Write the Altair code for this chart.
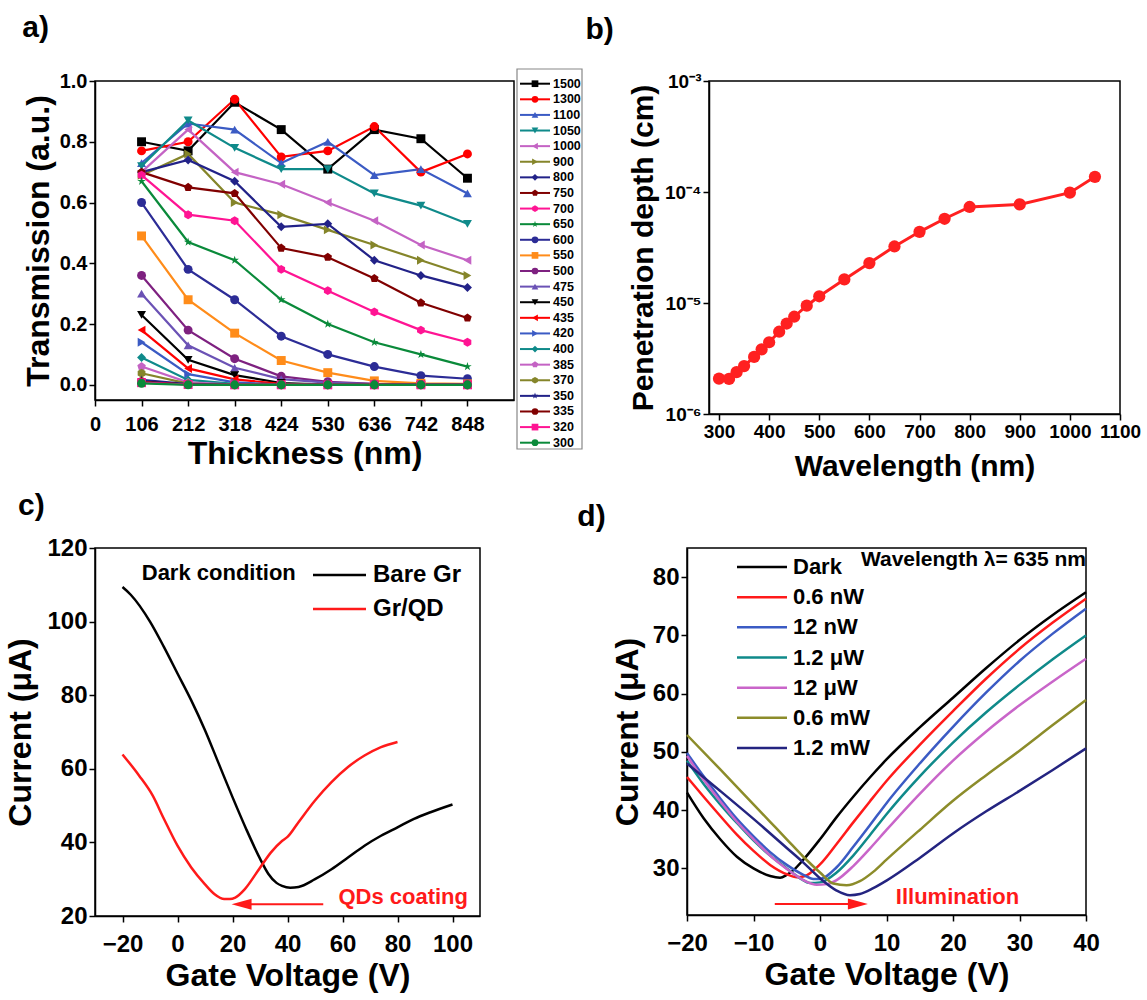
import altair as alt
import pandas as pd

FONT = "Liberation Sans"

# ---------------- panel a: transmission vs thickness ----------------
thickness = [106, 212, 318, 424, 530, 636, 742, 848]
wavelengths = ["1500", "1300", "1100", "1050", "1000", "900", "800", "750", "700", "650",
               "600", "550", "500", "475", "450", "435", "420", "400", "385", "370",
               "350", "335", "320", "300"]
t1500 = [0.80, 0.77, 0.93, 0.84, 0.71, 0.84, 0.81, 0.68]
t1300 = [0.77, 0.80, 0.94, 0.75, 0.77, 0.85, 0.70, 0.76]
t1100 = [0.73, 0.86, 0.84, 0.73, 0.80, 0.69, 0.71, 0.63]
t1050 = [0.72, 0.87, 0.78, 0.71, 0.71, 0.63, 0.59, 0.53]
t1000 = [0.70, 0.84, 0.70, 0.66, 0.60, 0.54, 0.46, 0.41]
t900 = [0.69, 0.76, 0.60, 0.56, 0.51, 0.46, 0.41, 0.36]
t800 = [0.70, 0.74, 0.67, 0.52, 0.53, 0.41, 0.36, 0.32]
t750 = [0.70, 0.65, 0.63, 0.45, 0.42, 0.35, 0.27, 0.22]
t700 = [0.69, 0.56, 0.54, 0.38, 0.31, 0.24, 0.18, 0.14]
t650 = [0.67, 0.47, 0.41, 0.28, 0.20, 0.14, 0.10, 0.06]
t600 = [0.60, 0.38, 0.28, 0.16, 0.10, 0.06, 0.03, 0.02]
t550 = [0.49, 0.28, 0.17, 0.08, 0.04, 0.013, 0.005, 0.003]
t500 = [0.36, 0.18, 0.086, 0.028, 0.01, 0.003, 0.001, 0.0]
t475 = [0.30, 0.13, 0.056, 0.019, 0.007, 0.002, 0.001, 0.0]
t450 = [0.23, 0.082, 0.032, 0.006, 0.001, 0.0, 0.0, 0.0]
t435 = [0.18, 0.054, 0.018, 0.003, 0.0, 0.0, 0.0, 0.0]
t420 = [0.14, 0.035, 0.008, 0.001, 0.0, 0.0, 0.0, 0.0]
t400 = [0.09, 0.016, 0.003, 0.0, 0.0, 0.0, 0.0, 0.0]
t385 = [0.06, 0.008, 0.001, 0.0, 0.0, 0.0, 0.0, 0.0]
t370 = [0.038, 0.004, 0.0, 0.0, 0.0, 0.0, 0.0, 0.0]
t350 = [0.016, 0.002, 0.0, 0.0, 0.0, 0.0, 0.0, 0.0]
t335 = [0.010, 0.001, 0.0, 0.0, 0.0, 0.0, 0.0, 0.0]
t320 = [0.007, 0.001, 0.0, 0.0, 0.0, 0.0, 0.0, 0.0]
t300 = [0.005, 0.0, 0.0, 0.0, 0.0, 0.0, 0.0, 0.0]
series_a = [t1500, t1300, t1100, t1050, t1000, t900, t800, t750, t700, t650, t600, t550,
            t500, t475, t450, t435, t420, t400, t385, t370, t350, t335, t320, t300]
colors_a = ["#000000", "#FF0000", "#3B5BC4", "#0F8A8A", "#C463C4", "#85852A", "#222288",
            "#800000", "#FF1493", "#0A8A3A", "#2C2C96", "#FF8C1A", "#7E2180", "#6B52B5",
            "#000000", "#FF0000", "#3B5BC4", "#0F8A8A", "#C463C4", "#85852A", "#222288",
            "#800000", "#FF1493", "#0A8A3A"]
STAR = "M0,-1L0.2245,-0.309L0.951,-0.309L0.363,0.118L0.588,0.809L0,0.382L-0.588,0.809L-0.363,0.118L-0.951,-0.309L-0.2245,-0.309Z"
PENT = "M0,-1L0.951,-0.309L0.588,0.809L-0.588,0.809L-0.951,-0.309Z"
HEX = "M0,-1L0.866,-0.5L0.866,0.5L0,1L-0.866,0.5L-0.866,-0.5Z"
shapes_a = ["square", "circle", "triangle-up", "triangle-down", "triangle-left", "triangle-right",
            "diamond", PENT, HEX, STAR, "circle", "square", "circle", "triangle-up",
            "triangle-down", "triangle-left", "triangle-right", "diamond", PENT, HEX, STAR,
            "circle", "square", "circle"]

# ---------------- panel b: penetration depth ----------------
wl_b = [300, 320, 335, 350, 370, 385, 400, 420, 435, 450, 475, 500, 550, 600, 650, 700, 750,
        800, 900, 1000, 1050]
depth_b = [2.08e-6, 2.07e-6, 2.38e-6, 2.70e-6, 3.27e-6, 3.82e-6, 4.43e-6, 5.51e-6, 6.53e-6,
           7.52e-6, 9.46e-6, 1.15e-5, 1.63e-5, 2.29e-5, 3.23e-5, 4.38e-5, 5.74e-5, 7.33e-5,
           7.73e-5, 9.86e-5, 1.37e-4]

# ---------------- panel c: dark condition ----------------
vc_bare = [-20, -17, -10, -5, 0, 5, 10, 15, 20, 25, 30, 33, 36, 38, 41, 44, 50, 56, 62, 68, 74, 80, 86, 92, 100]
ic_bare = [109.4, 107.3, 100.0, 93.2, 85.9, 78.6, 70.5, 61.4, 52.3, 43.6, 35.6, 31.5, 29.0, 28.2, 27.7,
           27.9, 30.0, 32.7, 35.9, 39.1, 41.8, 44.1, 46.4, 48.2, 50.3]
vc_qd = [-20, -14, -9, -5, 0, 5, 10, 13.5, 17, 19, 21, 24.5, 29, 34, 38, 40, 44, 50, 56, 62, 68, 74, 80]
ic_qd = [63.9, 58.2, 52.7, 46.5, 39.1, 33.2, 28.6, 25.9, 24.6, 24.6, 25.0, 27.3, 32.0, 37.3, 40.4, 41.5,
         45.5, 51.4, 56.4, 60.5, 63.6, 65.9, 67.3]
names_c = ["Bare Gr", "Gr/QD"]
colors_c = ["#000000", "#FF1A1A"]

# ---------------- panel d: illumination ----------------
names_d = ["Dark", "0.6 nW", "12 nW", "1.2 μW", "12 μW", "0.6 mW", "1.2 mW"]
colors_d = ["#000000", "#FF1A1A", "#3B5BC4", "#0F8A8A", "#C965C9", "#8C8C2A", "#242480"]
vd_dark = [-20, -17.5, -15, -12.5, -10, -7.5, -6, -5, -4, -2.5, 0, 2.5, 5, 7.5, 10, 15, 20, 25, 30, 35, 40]
id_dark = [43.0, 38.6, 35.0, 32.0, 30.0, 28.7, 28.4, 28.9, 29.7, 31.5, 35.0, 38.8, 42.3, 45.6, 48.7,
           54.2, 59.3, 64.4, 69.2, 73.5, 77.4]
vd_06n = [-20, -17.5, -15, -12.5, -10, -7.5, -5, -3.5, -2.5, 0, 2.5, 5, 7.5, 10, 15, 20, 25, 30, 35, 40]
id_06n = [45.7, 42.3, 39.0, 35.8, 33.0, 30.6, 29.0, 28.5, 28.6, 30.7, 34.2, 37.9, 41.5, 45.0, 51.2,
          57.0, 62.6, 67.7, 72.2, 76.3]
vd_12n = [-20, -17.5, -15, -12.5, -10, -7.5, -5, -2.5, -1, 0, 2.5, 5, 7.5, 10, 15, 20, 25, 30, 35, 40]
id_12n = [49.8, 45.8, 42.0, 38.5, 35.5, 32.8, 30.6, 28.9, 28.2, 28.2, 30.2, 33.7, 37.4, 41.2, 48.0,
          54.3, 60.2, 65.6, 70.3, 74.6]
vd_12u = [-20, -17.5, -15, -12.5, -10, -7.5, -5, -3, -1.5, 0, 2.5, 5, 7.5, 10, 15, 20, 25, 30, 35, 40]
id_12u = [48.5, 44.5, 41.0, 37.8, 34.8, 32.2, 30.0, 28.3, 27.5, 27.6, 29.3, 32.2, 35.7, 39.3, 45.8,
          51.6, 56.8, 61.5, 65.9, 70.0]
vd_12uw = [-20, -17.5, -15, -12.5, -10, -7.5, -5, -2.5, -0.5, 1, 2.5, 5, 7.5, 10, 15, 20, 25, 30, 35, 40]
id_12uw = [49.3, 45.2, 41.5, 38.0, 35.0, 32.2, 29.9, 28.0, 27.2, 27.3, 28.0, 30.4, 33.4, 36.6, 42.8,
           48.5, 53.5, 58.0, 62.1, 66.0]
vd_06m = [-20, -15, -10, -7.5, -5, -2.5, 0, 2, 4, 6, 8, 10, 15, 20, 25, 30, 35, 40]
id_06m = [52.9, 47.0, 41.0, 38.0, 35.0, 32.0, 29.3, 27.4, 27.1, 27.8, 29.4, 31.5, 36.6, 41.6, 46.0,
          50.2, 54.6, 58.9]
vd_12m = [-20, -15, -10, -5, -2.5, 0, 2.5, 4.5, 6, 8, 10, 15, 20, 25, 30, 35, 40]
id_12m = [48.0, 43.3, 38.5, 33.5, 31.0, 28.3, 26.2, 25.4, 25.6, 26.6, 27.9, 31.8, 36.0, 39.8, 43.3,
          46.9, 50.6]
series_d = [(vd_dark, id_dark), (vd_06n, id_06n), (vd_12n, id_12n), (vd_12u, id_12u),
            (vd_12uw, id_12uw), (vd_06m, id_06m), (vd_12m, id_12m)]

ARROW_L = "M-1,0L1,-0.55L1,0.55Z"
ARROW_R = "M1,0L-1,-0.55L-1,0.55Z"


def ax(**kw):
    base = dict(grid=False, labelFont=FONT, labelFontWeight="bold", labelColor="black",
                titleFont=FONT, titleFontWeight="bold", titleColor="black",
                domainColor="black", domainWidth=1.5, tickColor="black", tickWidth=1.5,
                tickSize=6, labelFlush=False, labelOverlap=False)
    base.update(kw)
    return alt.Axis(**base)


def ptitle(text, offset, dx=0):
    return alt.TitleParams(text=text, font=FONT, fontSize=30, fontWeight="bold", color="black",
                           anchor="start", offset=offset, dx=dx)


one = pd.DataFrame({"k": [0]})

# ---------------- build panel a ----------------
rows = []
for wl, vals in zip(wavelengths, series_a):
    for t, v in zip(thickness, vals):
        rows.append({"wl": wl, "t": t, "v": v})
df_a = pd.DataFrame(rows)

sc_ya = alt.Scale(domain=[-0.05, 1.0], nice=False, zero=False)
xa = alt.X("t:Q", scale=alt.Scale(domain=[0, 954], nice=False, zero=False),
           axis=ax(values=[0] + thickness, format="d", title="Thickness (nm)",
                   labelFontSize=20, titleFontSize=32, titlePadding=4, labelPadding=8))
ya = alt.Y("v:Q", scale=sc_ya,
           axis=ax(values=[0, 0.2, 0.4, 0.6, 0.8, 1.0], format=".1f", title="Transmission (a.u.)",
                   labelFontSize=20, titleFontSize=32, titlePadding=4, labelPadding=2))
ya_plain = alt.Y("v:Q", scale=sc_ya, axis=None)
col_a = alt.Color("wl:N", scale=alt.Scale(domain=wavelengths, range=colors_a), legend=None)
shp_a = alt.Shape("wl:N", scale=alt.Scale(domain=wavelengths, range=shapes_a), legend=None)

lines_a = alt.Chart(df_a).mark_line(strokeWidth=2.2).encode(x=xa, y=ya, color=col_a)
pts_a = alt.Chart(df_a).mark_point(filled=True, size=80, opacity=1).encode(
    x=xa, y=ya_plain, color=col_a, shape=shp_a)

# legend box of panel a (drawn to the right of the plot area)
leg_df = pd.DataFrame({"wl": wavelengths, "i": list(range(len(wavelengths)))})
ly = alt.Y("i:Q", scale=alt.Scale(domain=[0, 23], range=[2.7, 361.7]), axis=None)
leg_box = alt.Chart(one).mark_rect(fillOpacity=0, stroke="#888888", strokeWidth=1.2).encode(
    x=alt.value(422), x2=alt.value(487), y=alt.value(-12), y2=alt.value(368))
leg_rule = alt.Chart(leg_df).mark_rule(strokeWidth=2).encode(
    x=alt.value(425), x2=alt.value(455), y=ly, color=col_a)
leg_pt = alt.Chart(leg_df).mark_point(filled=True, size=45, opacity=1).encode(
    x=alt.value(440), y=ly, color=col_a, shape=shp_a)
leg_txt = alt.Chart(leg_df).mark_text(align="left", baseline="middle", font=FONT, fontSize=12.5,
                                      fontWeight="bold", color="black").encode(
    x=alt.value(458), y=ly, text="wl:N")
panel_a = alt.layer(lines_a, pts_a, leg_box, leg_rule, leg_pt, leg_txt).resolve_scale(
    y="independent").properties(width=419, height=319, title=ptitle("a)", 25))

# ---------------- build panel b ----------------
df_b = pd.DataFrame({"wl": wl_b, "d": depth_b})
xb = alt.X("wl:Q", scale=alt.Scale(domain=[280, 1100], nice=False, zero=False),
           axis=ax(values=list(range(300, 1101, 100)), format="d", title="Wavelength (nm)",
                   labelFontSize=19, titleFontSize=30, titlePadding=10))
yb = alt.Y("d:Q", scale=alt.Scale(type="log", domain=[1e-6, 1e-3], nice=False),
           axis=ax(values=[1e-6, 1e-5, 1e-4, 1e-3],
                   labelExpr="'10' + (datum.value < 5e-6 ? '⁻⁶' : datum.value < 5e-5 ? '⁻⁵' : datum.value < 5e-4 ? '⁻⁴' : '⁻³')",
                   title="Penetration depth (cm)", labelFontSize=19, titleFontSize=30,
                   titlePadding=6))
line_b = alt.Chart(df_b).mark_line(color="#FF2020", strokeWidth=3).encode(x=xb, y=yb)
pts_b = alt.Chart(df_b).mark_circle(color="#FF2020", size=150, opacity=1).encode(x=xb, y=yb)
panel_b = alt.layer(line_b, pts_b).properties(width=411, height=333, title=ptitle("b)", 27, -43))

# ---------------- build panel c ----------------
rows = []
for name, xs, ys in [(names_c[0], vc_bare, ic_bare), (names_c[1], vc_qd, ic_qd)]:
    for xv, yv in zip(xs, ys):
        rows.append({"s": name, "v": xv, "i": yv})
df_c = pd.DataFrame(rows)
sc_xc = alt.Scale(domain=[-30, 110], nice=False, zero=False)
sc_yc = alt.Scale(domain=[20, 120], nice=False, zero=False)
xc = alt.X("v:Q", scale=sc_xc, axis=ax(values=[-20, 0, 20, 40, 60, 80, 100], title="Gate Voltage (V)",
                                      labelFontSize=24, titleFontSize=32, titlePadding=4,
                                      labelPadding=10))
yc = alt.Y("i:Q", scale=sc_yc, axis=ax(values=[20, 40, 60, 80, 100, 120], title="Current (μA)",
                                      labelFontSize=24, titleFontSize=32, titlePadding=9))
col_c = alt.Color("s:N", scale=alt.Scale(domain=names_c, range=colors_c), legend=None)
lines_c = alt.Chart(df_c).mark_line(strokeWidth=2.5, interpolate="monotone").encode(
    x=xc, y=yc, color=col_c)
dark_txt = alt.Chart(one).mark_text(align="left", baseline="middle", font=FONT, fontSize=22,
                                    fontWeight="bold", color="black", text="Dark condition").encode(
    x=alt.datum(-13), y=alt.datum(113.2, scale=sc_yc, axis=None))
qd_txt = alt.Chart(one).mark_text(align="left", baseline="middle", font=FONT, fontSize=22,
                                  fontWeight="bold", color="#FF1A1A", text="QDs coating").encode(
    x=alt.datum(58.5), y=alt.datum(25.2, scale=sc_yc, axis=None))
arr_c = alt.Chart(one).mark_rule(color="#FF1A1A", strokeWidth=2).encode(
    x=alt.datum(53), x2=alt.datum(22), y=alt.datum(23.2, scale=sc_yc, axis=None))
head_c = alt.Chart(one).mark_point(shape=ARROW_L, filled=True, size=400, opacity=1,
                                   color="#FF1A1A").encode(
    x=alt.datum(23.3), y=alt.datum(23.2, scale=sc_yc, axis=None))
legc_df = pd.DataFrame({"s": names_c, "r": [0, 1]})
lyc = alt.Y("r:Q", scale=alt.Scale(domain=[0, 1], range=[27, 61]), axis=None)
legc_rule = alt.Chart(legc_df).mark_rule(strokeWidth=2.5).encode(
    x=alt.value(218), x2=alt.value(271), y=lyc, color=col_c)
legc_txt = alt.Chart(legc_df).mark_text(align="left", baseline="middle", font=FONT, fontSize=24,
                                        fontWeight="bold", color="black").encode(
    x=alt.value(278), y=lyc, text="s:N")
panel_c = alt.layer(lines_c, dark_txt, qd_txt, arr_c, head_c, legc_rule, legc_txt).resolve_scale(
    y="independent").properties(width=385, height=368, title=ptitle("c)", 15, 13))

# ---------------- build panel d ----------------
rows = []
for name, (xs, ys) in zip(names_d, series_d):
    for xv, yv in zip(xs, ys):
        rows.append({"s": name, "v": xv, "i": yv})
df_d = pd.DataFrame(rows)
sc_xd = alt.Scale(domain=[-20, 40], nice=False, zero=False)
sc_yd = alt.Scale(domain=[22, 85], nice=False, zero=False)
xd = alt.X("v:Q", scale=sc_xd, axis=ax(values=[-20, -10, 0, 10, 20, 30, 40], title="Gate Voltage (V)",
                                      labelFontSize=24, titleFontSize=32, titlePadding=4,
                                      labelPadding=10))
yd = alt.Y("i:Q", scale=sc_yd, axis=ax(values=[30, 40, 50, 60, 70, 80], title="Current (μA)",
                                      labelFontSize=24, titleFontSize=32, titlePadding=8))
col_d = alt.Color("s:N", scale=alt.Scale(domain=names_d, range=colors_d), legend=None)
lines_d = alt.Chart(df_d).mark_line(strokeWidth=2.5, interpolate="monotone").encode(
    x=xd, y=yd, color=col_d)
wl_txt = alt.Chart(one).mark_text(align="right", baseline="middle", font=FONT, fontSize=21,
                                  fontWeight="bold", color="black",
                                  text="Wavelength λ= 635 nm").encode(
    x=alt.datum(40), y=alt.datum(82.9, scale=sc_yd, axis=None))
ill_txt = alt.Chart(one).mark_text(align="left", baseline="middle", font=FONT, fontSize=22,
                                   fontWeight="bold", color="#FF1A1A", text="Illumination").encode(
    x=alt.datum(11.4), y=alt.datum(25.1, scale=sc_yd, axis=None))
arr_d = alt.Chart(one).mark_rule(color="#FF1A1A", strokeWidth=2).encode(
    x=alt.datum(-6.8), x2=alt.datum(6.0), y=alt.datum(23.9, scale=sc_yd, axis=None))
head_d = alt.Chart(one).mark_point(shape=ARROW_R, filled=True, size=400, opacity=1,
                                   color="#FF1A1A").encode(
    x=alt.datum(5.7), y=alt.datum(23.9, scale=sc_yd, axis=None))
legd_df = pd.DataFrame({"s": names_d, "r": list(range(len(names_d)))})
lyd = alt.Y("r:Q", scale=alt.Scale(domain=[0, 6], range=[19, 200]), axis=None)
legd_rule = alt.Chart(legd_df).mark_rule(strokeWidth=2.5).encode(
    x=alt.value(50), x2=alt.value(100), y=lyd, color=col_d)
legd_txt = alt.Chart(legd_df).mark_text(align="left", baseline="middle", font=FONT, fontSize=22,
                                        fontWeight="bold", color="black").encode(
    x=alt.value(106), y=lyd, text="s:N")
panel_d = alt.layer(lines_d, wl_txt, ill_txt, arr_d, head_d, legd_rule, legd_txt).resolve_scale(
    y="independent").properties(width=399, height=367, title=ptitle("d)", 16, -34))

# ---------------- layout ----------------
top = alt.hconcat(panel_a, panel_b, spacing=0).resolve_scale(color="independent", shape="independent")
bottom = alt.hconcat(panel_c, panel_d, spacing=95).resolve_scale(color="independent")
chart = alt.vconcat(top, bottom, spacing=8).resolve_scale(
    color="independent", shape="independent").configure(
    padding={"left": 4, "top": 12, "right": 5, "bottom": 5}, background="white"
).configure_view(stroke="black", strokeWidth=1.5)

chart.save("out.html", embed_options={"renderer": "svg", "actions": False})
